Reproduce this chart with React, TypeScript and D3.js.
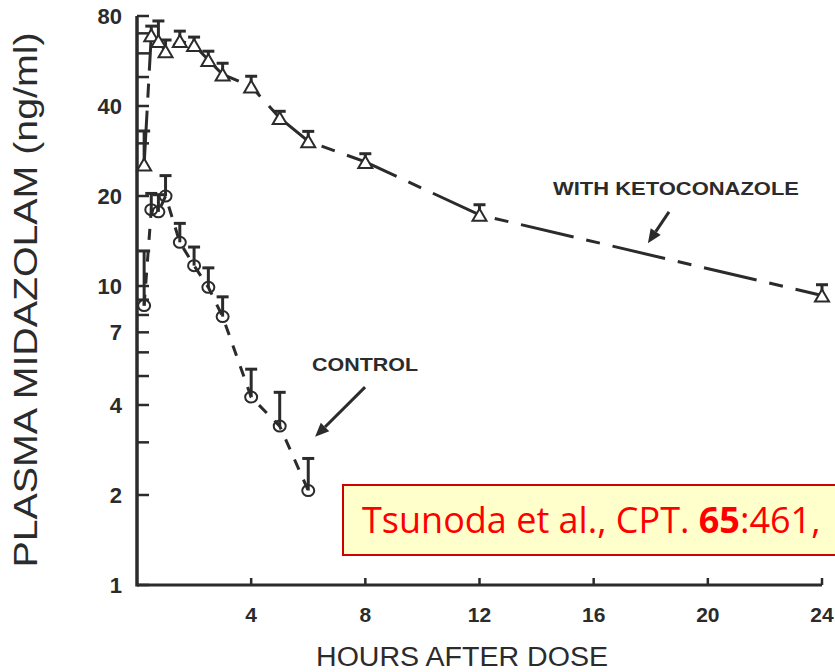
import React from "react";
import * as d3 from "d3";

// ---- data ----
const ketoTimes = [0.25, 0.5, 0.75, 1, 1.5, 2, 2.5, 3, 4, 5, 6, 8, 12, 24];
const ketoMeans = [25.5, 69, 66, 61, 66, 64, 57, 51, 46.5, 36.5, 30.5, 26, 17.3, 9.3];
const ketoUpper = [33, 74, 77, 66.5, 71.2, 68, 61, 55.6, 50.3, 38.4, 32.9, 27.7, 18.7, 10.1];

const ctrlTimes = [0.25, 0.5, 0.75, 1, 1.5, 2, 2.5, 3, 4, 5, 6];
const ctrlMeans = [8.6, 18, 17.7, 20, 14, 11.7, 9.9, 7.9, 4.25, 3.4, 2.07];
const ctrlUpper = [13.1, 20.4, 20.2, 23.4, 16.2, 13.5, 11.5, 9.2, 5.27, 4.41, 2.65];

const xTicks = [4, 8, 12, 16, 20, 24];
const yLabelTicks = [1, 2, 4, 7, 10, 20, 40, 80];
const yMinorTicks = [1, 2, 3, 4, 5, 6, 7, 8, 9, 10, 20, 30, 40, 50, 60, 70, 80];

const INK = "#2b2b2b";
const FONT = "'Liberation Sans', Arial, Helvetica, sans-serif";

export default function App() {
  const W = 835, H = 672;
  const x = d3.scaleLinear().domain([0, 24]).range([137, 822]);
  const y = d3.scaleLog().domain([1, 80]).range([585, 16]);

  const keto = ketoTimes.map((t, i) => ({ t, v: ketoMeans[i], u: ketoUpper[i] }));
  const ctrl = ctrlTimes.map((t, i) => ({ t, v: ctrlMeans[i], u: ctrlUpper[i] }));

  const line = d3.line<{ t: number; v: number }>().x(d => x(d.t)).y(d => y(d.v));

  const tri = (cx: number, cy: number) => {
    const w = 7, h = 6;
    return `M${cx},${cy - h} L${cx + w},${cy + h} L${cx - w},${cy + h} Z`;
  };

  const arrow = (x1: number, y1: number, x2: number, y2: number, key: string) => {
    const ang = Math.atan2(y2 - y1, x2 - x1);
    const L = 14, Wd = 6;
    const bx = x2 - L * Math.cos(ang), by = y2 - L * Math.sin(ang);
    const px = -Math.sin(ang) * Wd, py = Math.cos(ang) * Wd;
    return (
      <g key={key}>
        <line x1={x1} y1={y1} x2={bx} y2={by} stroke={INK} strokeWidth={3} />
        <path d={`M${x2},${y2} L${bx + px},${by + py} L${bx - px},${by - py} Z`} fill={INK} />
      </g>
    );
  };

  return (
    <svg width={W} height={H} style={{ position: "absolute", left: 0, top: 0, background: "#fff" }}>
      {/* Y axis title */}
      <text
        transform={`translate(37,300) rotate(-90)`}
        textAnchor="middle"
        fontFamily={FONT}
        fontSize={34}
        fill={INK}
        textLength={535}
        lengthAdjust="spacingAndGlyphs"
      >
        PLASMA MIDAZOLAM (ng/ml)
      </text>

      {/* X axis title */}
      <text
        x={462}
        y={666}
        textAnchor="middle"
        fontFamily={FONT}
        fontSize={27}
        fill={INK}
        textLength={292}
        lengthAdjust="spacingAndGlyphs"
      >
        HOURS AFTER DOSE
      </text>

      {/* axes */}
      <line x1={x(0)} y1={y(80)} x2={x(0)} y2={y(1) + 1.5} stroke={INK} strokeWidth={3.5} />
      <line x1={x(0)} y1={y(1)} x2={x(24)} y2={y(1)} stroke={INK} strokeWidth={3} />
      {yMinorTicks.map(v => (
        <line key={"yt" + v} x1={x(0)} x2={x(0) + 12} y1={y(v)} y2={y(v)} stroke={INK} strokeWidth={2.5} />
      ))}
      {xTicks.map(t => (
        <line key={"xt" + t} x1={x(t)} x2={x(t)} y1={y(1)} y2={y(1) - 7} stroke={INK} strokeWidth={2.5} />
      ))}
      {yLabelTicks.map(v => (
        <text
          key={"yl" + v}
          x={122}
          y={y(v) + 8}
          textAnchor="end"
          fontFamily={FONT}
          fontWeight="bold"
          fontSize={22}
          fill={INK}
        >
          {v}
        </text>
      ))}
      {xTicks.map(t => (
        <text
          key={"xl" + t}
          x={x(t)}
          y={622}
          textAnchor="middle"
          fontFamily={FONT}
          fontWeight="bold"
          fontSize={21}
          fill={INK}
        >
          {t}
        </text>
      ))}

      {/* lines */}
      <path d={line(keto) || ""} fill="none" stroke={INK} strokeWidth={3} strokeDasharray="54,13,14,13" />
      <path d={line(ctrl) || ""} fill="none" stroke={INK} strokeWidth={3} strokeDasharray="11,11" />

      {/* error bars */}
      {keto.map((d, i) => (
        <g key={"ke" + i}>
          <line x1={x(d.t)} x2={x(d.t)} y1={y(d.v)} y2={y(d.u)} stroke={INK} strokeWidth={3} />
          <line x1={x(d.t) - 6} x2={x(d.t) + 6} y1={y(d.u)} y2={y(d.u)} stroke={INK} strokeWidth={3} />
        </g>
      ))}
      {ctrl.map((d, i) => (
        <g key={"ce" + i}>
          <line x1={x(d.t)} x2={x(d.t)} y1={y(d.v)} y2={y(d.u)} stroke={INK} strokeWidth={3} />
          <line x1={x(d.t) - 6} x2={x(d.t) + 6} y1={y(d.u)} y2={y(d.u)} stroke={INK} strokeWidth={3} />
        </g>
      ))}

      {/* markers */}
      {keto.map((d, i) => (
        <path key={"km" + i} d={tri(x(d.t), y(d.v))} fill="#fff" stroke={INK} strokeWidth={2} />
      ))}
      {ctrl.map((d, i) => (
        <ellipse key={"cm" + i} cx={x(d.t)} cy={y(d.v)} rx={6} ry={5.5} fill="none" stroke={INK} strokeWidth={2} />
      ))}

      {/* annotations */}
      <text x={553} y={195} fontFamily={FONT} fontWeight="bold" fontSize={19} fill={INK} textLength={246} lengthAdjust="spacingAndGlyphs">
        WITH KETOCONAZOLE
      </text>
      {arrow(x(18.64), y(17.7), x(17.9), y(13.9), "ka")}
      <text x={312} y={371} fontFamily={FONT} fontWeight="bold" fontSize={19} fill={INK} textLength={106} lengthAdjust="spacingAndGlyphs">
        CONTROL
      </text>
      {arrow(x(7.99), y(4.59), x(6.24), y(3.13), "ca")}

      {/* citation box */}
      <rect x={343} y={485} width={500} height={70} fill="#FFFFCC" stroke="#D00000" strokeWidth={2} />
      <text x={362} y={533} fontFamily="'Open Sans', 'Noto Sans', sans-serif" fontSize={36} fill="#FF0000">
        Tsunoda et al., CPT. <tspan fontWeight="bold">65</tspan>:461,
      </text>
    </svg>
  );
}
